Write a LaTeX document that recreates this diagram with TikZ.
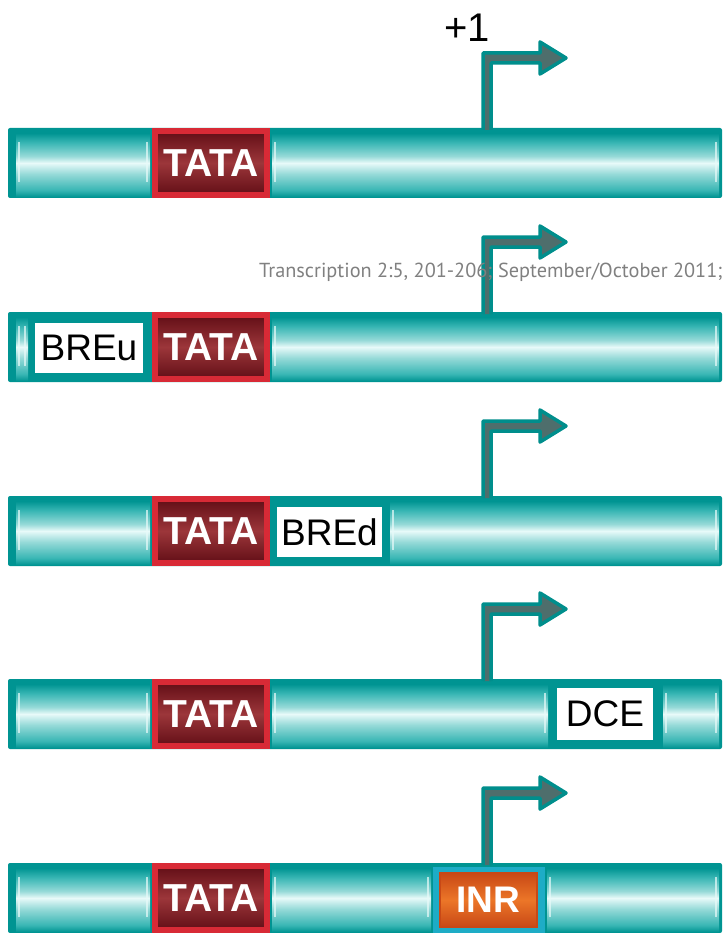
\documentclass[tikz,border=0pt]{standalone}
\usepackage{fontspec}
\setmainfont{Liberation Sans}
\newfontfamily\markfont{PT Sans}
\usepackage{xcolor}
\usetikzlibrary{calc}
\definecolor{barDark}{RGB}{0,148,146}
\definecolor{barMid}{RGB}{56,182,180}
\definecolor{barLite}{RGB}{150,218,216}
\definecolor{barGlow}{RGB}{232,250,249}
\definecolor{tataRed}{RGB}{216,42,54}
\definecolor{tataDark}{RGB}{98,14,22}
\definecolor{tataMid}{RGB}{156,54,58}
\definecolor{inrOrange}{RGB}{236,118,40}
\definecolor{inrDark}{RGB}{200,72,22}
\definecolor{inrFrame}{RGB}{30,172,198}
\definecolor{tssFill}{RGB}{78,110,108}
\definecolor{tssLine}{RGB}{0,142,140}
\definecolor{markGray}{RGB}{128,128,128}

\pgfdeclareverticalshading{barshade}{100bp}{color(0bp)=(barDark); color(25bp)=(barDark);
  color(30bp)=(barMid); color(42bp)=(barLite); color(50bp)=(barGlow); color(55bp)=(barLite);
  color(65bp)=(barMid); color(72bp)=(barDark); color(100bp)=(barDark)}

\begin{document}
\begin{tikzpicture}[x=1pt,y=-1pt,
  genebar/.style={rectangle, fill=barDark, rounded corners=2pt, inner sep=0pt,
    minimum width=714pt, minimum height=70pt},
  tatabox/.style={rectangle, draw=tataRed, line width=6pt, inner sep=0pt,
    top color=tataDark, bottom color=tataDark, middle color=tataMid,
    minimum width=112pt, minimum height=64pt, text=white,
    font=\fontsize{39}{39}\selectfont\bfseries},
  elembox/.style={rectangle, fill=white, inner sep=0pt,
    font=\fontsize{37}{37}\selectfont},
  inrbox/.style={rectangle, draw=inrDark, line width=2pt, inner sep=0pt,
    top color=inrDark, bottom color=inrDark, middle color=inrOrange, text=white,
    minimum width=97pt, minimum height=54pt,
    font=\fontsize{37}{37}\selectfont\bfseries},
  tss/.style={fill=tssFill, draw=tssLine, line width=3.5pt, line join=round}]

% ---- layout parameters ----
\def\BarH{70}            % bar height
\def\yOne{128}           % top of bar 1
\def\yTwo{312}           % top of bar 2
\def\yThree{496}         % top of bar 3
\def\yFour{679}          % top of bar 4
\def\yFive{863}          % top of bar 5

\useasboundingbox (0,0) rectangle (725,933);

% Shaded piece of a bar (x start, x end, bar top)
\newcommand{\barseg}[3]{%
  \shade[shading=barshade] (#1,#3+1) rectangle (#2,#3+\BarH-1);
  \draw[barGlow, line width=2pt, opacity=.7] (#1+3,#3+14) -- (#1+3,#3+\BarH-16);
  \draw[barGlow, line width=2pt, opacity=.7] (#2-3,#3+14) -- (#2-3,#3+\BarH-16);}

% Bent start arrow standing on a bar (coordinate at the bar top)
\newcommand{\tssarrow}[1]{%
  \filldraw[tss, shift={(#1)}] (-4,2) -- (-4,-75) -- (53,-75) -- (53,-86)
    -- (79,-70) -- (53,-54) -- (53,-65) -- (4,-65) -- (4,2);}

% ---- bars ----
\node[genebar] (bar1) at (365,\yOne+35) {};
\node[genebar] (bar2) at (365,\yTwo+35) {};
\node[genebar] (bar3) at (365,\yThree+35) {};
\node[genebar] (bar4) at (365,\yFour+35) {};
\node[genebar] (bar5) at (365,\yFive+35) {};

\barseg{16}{150}{\yOne}   \barseg{272}{719}{\yOne}
\barseg{16}{28}{\yTwo}    \barseg{272}{719}{\yTwo}
\barseg{16}{150}{\yThree} \barseg{390}{719}{\yThree}
\barseg{16}{150}{\yFour}  \barseg{272}{548}{\yFour}  \barseg{663}{719}{\yFour}
\barseg{16}{150}{\yFive}  \barseg{272}{431}{\yFive}  \barseg{547}{719}{\yFive}

% ---- promoter elements ----
\node[tatabox] (tata1) at (211,\yOne+35) {TATA};
\node[tatabox] (tata2) at (211,\yTwo+35) {TATA};
\node[tatabox] (tata3) at (211,\yThree+35) {TATA};
\node[tatabox] (tata4) at (211,\yFour+35) {TATA};
\node[tatabox] (tata5) at (211,\yFive+35) {TATA};

\node[elembox, minimum width=108pt, minimum height=50pt] (breu) at (89,\yTwo+36) {BREu};
\node[elembox, minimum width=105pt, minimum height=50pt] (bred) at (329.5,\yThree+36) {BREd};
\node[elembox, minimum width=96pt, minimum height=52pt] (dce) at (605,\yFour+35) {DCE};
\fill[inrFrame] (433,\yFive+4) rectangle (545,\yFive+\BarH);
\node[inrbox] (inr) at (488.5,\yFive+37) {INR};

% ---- start sites ----
\coordinate (tss1) at (487,\yOne);
\coordinate (tss2) at (487,\yTwo);
\coordinate (tss3) at (487,\yThree);
\coordinate (tss4) at (487,\yFour);
\coordinate (tss5) at (487,\yFive);
\foreach \s in {tss1,tss2,tss3,tss4,tss5}
  {\tssarrow{\s}}

\node[anchor=base west, inner sep=0pt, font=\fontsize{40}{40}\selectfont]
  (plusone) at (444,42) {+1};

% journal line printed across the figure
\node[anchor=base west, inner sep=0pt, text=markGray,
  font=\markfont\fontsize{20.3}{20.3}\selectfont] (credit) at (259,277)
  {Transcription 2:5, 201-206; September/October 2011;};

\end{tikzpicture}
\end{document}
